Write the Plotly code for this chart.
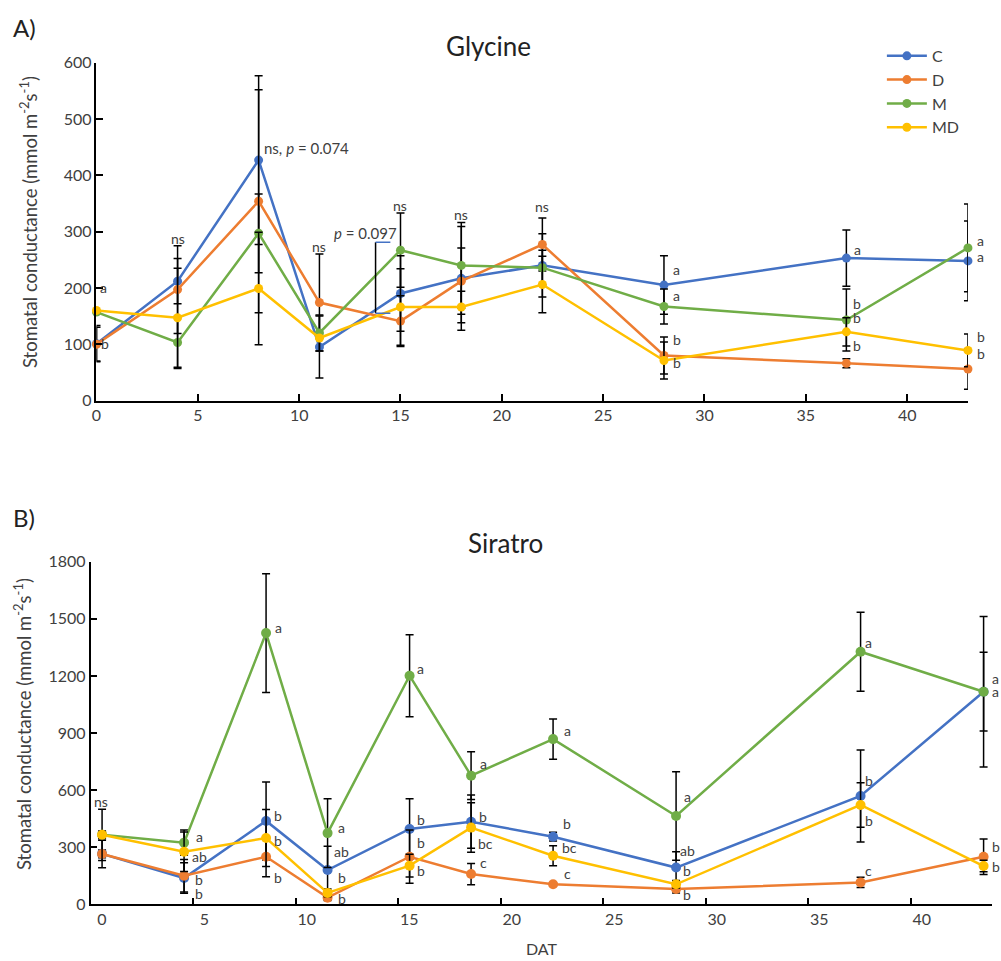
import plotly.graph_objects as go

# ---------------- data ----------------
dat = [0, 4, 8, 11, 15, 18, 22, 28, 37, 43]
series_names = ["C", "D", "M", "MD"]
series_colors = ["#4472C4", "#ED7D31", "#70AD47", "#FFC000"]

# Glycine (panel A)
gly_C = [101, 212, 427, 95, 190, 217, 240, 205, 253, 248]
gly_D = [100, 197, 354, 174, 141, 212, 277, 80, 66, 56]
gly_M = [157, 103, 297, 120, 267, 240, 236, 167, 143, 271]
gly_MD = [160, 147, 199, 111, 166, 166, 206, 71, 122, 89]
gly_C_err = [32, 40, 150, 55, 67, 92, 56, 52, 50, 71]
gly_D_err = [30, 78, 198, 86, 45, 59, 47, 33, 8, 36]
gly_M_err = [0, 46, 70, 32, 66, 76, 31, 31, 55, 78]
gly_MD_err = [0, 88, 100, 0, 68, 28, 50, 33, 25, 29]

# Siratro (panel B)
sir_C = [265, 138, 438, 180, 396, 434, 355, 193, 569, 1117]
sir_D = [264, 150, 250, 35, 250, 159, 105, 80, 115, 250]
sir_M = [365, 324, 1425, 374, 1201, 676, 868, 464, 1327, 1117]
sir_MD = [365, 276, 348, 60, 203, 403, 255, 105, 522, 201]
sir_C_err = [20, 80, 205, 125, 158, 140, 23, 83, 242, 395]
sir_D_err = [72, 85, 105, 15, 140, 56, 10, 20, 27, 93]
sir_M_err = [135, 66, 312, 180, 215, 126, 106, 233, 207, 207]
sir_MD_err = [20, 104, 150, 20, 60, 130, 52, 20, 117, 30]

# axis ticks
gly_yticks = [0, 100, 200, 300, 400, 500, 600]
sir_yticks = [0, 300, 600, 900, 1200, 1500, 1800]
x_ticklabels = ["0", "5", "10", "15", "20", "25", "30", "35", "40"]
gly_xticks = [0, 5, 10, 15, 20, 25, 30, 35, 40]
sir_xticks = [-0.55, 4.45, 9.45, 14.45, 19.45, 24.45, 29.45, 34.45, 39.45]

# significance letters (day, value, text, horizontal shift in px)
gly_letters = [
    (0, 201, "a", 7), (0, 102, "b", 9), (4, 287, "ns", 0), (11, 273, "ns", 0),
    (15, 347, "ns", 0), (18, 331, "ns", 0), (22, 345, "ns", 0),
    (28, 232, "a", 13), (28, 186, "a", 13), (28, 109, "b", 13), (28, 67, "b", 13),
    (37, 269, "a", 11), (37, 173, "b", 11), (37, 148, "b", 11), (37, 97, "b", 11),
    (43, 285, "a", 13), (43, 255, "a", 13), (43, 113, "b", 13), (43, 83, "b", 13),
]
sir_letters = [
    (0, 538, "ns", -1),
    (4, 354, "a", 15), (4, 249, "ab", 15), (4, 128, "b", 15), (4, 59, "b", 15),
    (8, 1452, "a", 12), (8, 465, "b", 12), (8, 334, "b", 12), (8, 143, "b", 12),
    (11, 402, "a", 14), (11, 276, "ab", 14), (11, 143, "b", 14), (11, 28, "b", 14),
    (15, 1241, "a", 11), (15, 448, "b", 11), (15, 323, "b", 11), (15, 175, "b", 11),
    (18, 742, "a", 12), (18, 459, "b", 12), (18, 317, "bc", 14), (18, 222, "c", 12),
    (22, 911, "a", 14), (22, 422, "b", 14), (22, 296, "bc", 16), (22, 164, "c", 14),
    (28, 564, "a", 11), (28, 285, "ab", 11), (28, 180, "b", 11), (28, 54, "b", 11),
    (37, 1374, "a", 8), (37, 648, "b", 8), (37, 438, "b", 8), (37, 180, "c", 8),
    (43, 1185, "a", 12), (43, 1117, "a", 12), (43, 306, "b", 12), (43, 196, "b", 12),
]
p074_pos = (8.15, 448)
p097_pos = (13.28, 297)
bracket_x = [13.77, 14.5]
bracket_y = [155, 281]

FONT = "Lato"
TXT = "#404040"

fig = go.Figure()

gly = [(gly_C, gly_C_err), (gly_D, gly_D_err), (gly_M, gly_M_err), (gly_MD, gly_MD_err)]
sir = [(sir_C, sir_C_err), (sir_D, sir_D_err), (sir_M, sir_M_err), (sir_MD, sir_MD_err)]

for i, (vals, err) in enumerate(gly):
    fig.add_trace(go.Scatter(
        x=dat, y=vals, name=series_names[i], mode="lines+markers",
        line=dict(color=series_colors[i], width=2.5),
        marker=dict(color=series_colors[i], size=9),
        error_y=dict(type="data", array=err, visible=True, color="black", thickness=1.5, width=4),
        xaxis="x", yaxis="y", cliponaxis=False,
    ))
for i, (vals, err) in enumerate(sir):
    fig.add_trace(go.Scatter(
        x=dat, y=vals, name=series_names[i], mode="lines+markers",
        line=dict(color=series_colors[i], width=2.5),
        marker=dict(color=series_colors[i], size=10),
        error_y=dict(type="data", array=err, visible=True, color="black", thickness=1.5, width=4),
        xaxis="x2", yaxis="y2", showlegend=False, cliponaxis=False,
    ))

axis_common = dict(showline=True, linecolor="black", linewidth=1.5, ticks="inside",
                   ticklen=7, tickcolor="black", tickwidth=1.5, showgrid=False, zeroline=False,
                   automargin=False, tickfont=dict(family=FONT, size=16, color=TXT))

fig.update_layout(
    width=1001, height=961, margin=dict(l=0, r=0, t=0, b=0, autoexpand=False),
    paper_bgcolor="white", plot_bgcolor="white",
    font=dict(family=FONT, color=TXT),
    xaxis=dict(domain=[0.0964, 0.967], range=[0, 43], tickvals=gly_xticks, ticktext=x_ticklabels,
               anchor="y", **axis_common),
    yaxis=dict(domain=[1 - 400.5 / 961, 1 - 62.7 / 961], range=[0, 600], tickvals=gly_yticks,
               anchor="x", **axis_common),
    xaxis2=dict(domain=[0.0905, 0.991], range=[-0.56, 43.41], tickvals=sir_xticks, ticktext=x_ticklabels,
                ticklabelshift=11, anchor="y2", **axis_common),
    yaxis2=dict(domain=[1 - 904.3 / 961, 1 - 561.7 / 961], range=[0, 1800], tickvals=sir_yticks,
                anchor="x2", **axis_common),
    legend=dict(x=0.881, y=0.9595, xanchor="left", yanchor="top", bgcolor="rgba(0,0,0,0)",
                font=dict(family=FONT, size=16, color=TXT), itemwidth=40, tracegroupgap=0),
    showlegend=True,
)

ann = []
for x, y, t, dx in gly_letters:
    ann.append(dict(x=x, y=y, xref="x", yref="y", text=t, showarrow=False, xshift=dx,
                    font=dict(family=FONT, size=14, color=TXT)))
for x, y, t, dx in sir_letters:
    ann.append(dict(x=x, y=y, xref="x2", yref="y2", text=t, showarrow=False, xshift=dx,
                    font=dict(family=FONT, size=14, color=TXT)))
ann.append(dict(x=p074_pos[0], y=p074_pos[1], xref="x", yref="y", xanchor="left",
                text="ns, <i>p</i> = 0.074", showarrow=False, font=dict(family=FONT, size=15, color=TXT)))
ann.append(dict(x=p097_pos[0], y=p097_pos[1], xref="x", yref="y",
                text="<i>p</i> = 0.097", showarrow=False, font=dict(family=FONT, size=15, color=TXT)))


def paper_text(px, py, text, size, color=TXT, angle=0, xanchor="center"):
    return dict(x=px / 1001, y=1 - py / 961, xref="paper", yref="paper", text=text,
                showarrow=False, textangle=angle, xanchor=xanchor, yanchor="middle",
                font=dict(family=FONT, size=size, color=color))


ylabel = "Stomatal conductance (mmol m<sup>-2</sup>s<sup>-1</sup>)"
ann += [
    paper_text(488, 46, "Glycine", 26, "#222"),
    paper_text(505, 543, "Siratro", 26, "#222"),
    paper_text(11, 28, "A)", 24, "#222", xanchor="left"),
    paper_text(11, 517, "B)", 24, "#222", xanchor="left"),
    paper_text(28, 222, ylabel, 18.5, angle=-90),
    paper_text(22, 724, ylabel, 18.5, angle=-90),
    paper_text(542, 948, "DAT", 16),
]
fig.update_layout(annotations=ann)

# p = 0.097 bracket
fig.add_shape(type="line", xref="x", yref="y", x0=bracket_x[0], x1=bracket_x[0],
              y0=bracket_y[0], y1=bracket_y[1], line=dict(color="black", width=1.5))
fig.add_shape(type="line", xref="x", yref="y", x0=bracket_x[0], x1=bracket_x[1],
              y0=bracket_y[1], y1=bracket_y[1], line=dict(color="#4472C4", width=1.5))
fig.add_shape(type="line", xref="x", yref="y", x0=bracket_x[0], x1=bracket_x[1],
              y0=bracket_y[0], y1=bracket_y[0], line=dict(color="#4472C4", width=1.5))

fig.write_html("out.html")
